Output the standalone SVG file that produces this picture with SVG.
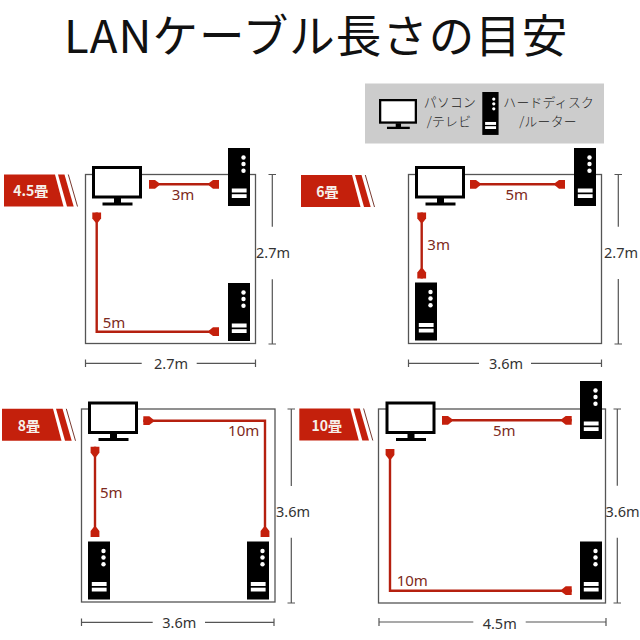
<svg xmlns="http://www.w3.org/2000/svg" xmlns:xlink="http://www.w3.org/1999/xlink" width="640" height="640" viewBox="0 0 640 640">
<style>
.title{font:400 45.5px "Noto Sans CJK JP","Noto Sans",sans-serif;fill:#111;letter-spacing:1px}
.room{fill:none;stroke:#555;stroke-width:1.3}
.cable{fill:none;stroke:#b5200f;stroke-width:2.4;stroke-linejoin:miter}
.dim{fill:none;stroke:#555;stroke-width:1.2}
.len{font:400 15px "Noto Sans","Open Sans",sans-serif;fill:#7d2a20;text-anchor:middle}
.lenS{font:400 15px "Noto Sans","Open Sans",sans-serif;fill:#7d2a20}
.size{font:400 14.5px "Noto Sans","Open Sans",sans-serif;fill:#333;text-anchor:middle}
.badge{font:700 14px "Noto Sans CJK JP","Noto Sans",sans-serif;fill:#f6f0ea;text-anchor:middle}
.leg{font:300 12.8px "Noto Sans CJK JP",sans-serif;fill:#222;text-anchor:middle;letter-spacing:.3px}
</style>
<defs>
<marker id="plug" viewBox="-11 -5 12 10" refX="0" refY="0" markerWidth="12" markerHeight="10" markerUnits="userSpaceOnUse" orient="auto-start-reverse" overflow="visible"><path d="M-10,-1.2 L-6,-4.4 L0,-4.4 L0,4.4 L-6,4.4 L-10,1.2 Z" fill="#c4200c"/></marker>
<g id="monitor"><rect x="1.5" y="1.5" width="47" height="29.5" fill="#fff" stroke="#000" stroke-width="3"/><rect x="22" y="32" width="7" height="5" fill="#000"/><rect x="10.5" y="36.5" width="30" height="3" fill="#000"/></g>
<g id="tower"><rect width="22" height="58" fill="#000"/><circle cx="15.5" cy="9.5" r="2.2" fill="#fff"/><circle cx="15.5" cy="16" r="2.2" fill="#fff"/><circle cx="15.5" cy="22.7" r="2.2" fill="#fff"/><rect x="3.8" y="40.5" width="14.8" height="4" fill="#fff"/><rect x="3.8" y="46.2" width="14.8" height="3.8" fill="#fff"/></g>
<g id="bstripes"><path d="M4,174.5H55L63.5,206.5H4Z" fill="#c4200c"/><path d="M58,174.5H64.5L73.7,206.5H67Z" fill="#c4200c"/><path d="M68.3,174.5L77.5,206.5" fill="none" stroke="#7a3a30" stroke-width="1"/></g>
</defs>
<rect width="640" height="640" fill="#fff"/>
<text class="title" x="64" y="53">LANケーブル長さの目安</text>

<g id="legend">
<rect x="365" y="83.5" width="239" height="60" fill="#ccc"/>
<use xlink:href="#monitor" href="#monitor" transform="translate(379,99) scale(.76)"/>
<text class="leg" x="450" y="107">パソコン</text><text class="leg" x="449" y="125.6">/テレビ</text>
<use xlink:href="#tower" href="#tower" transform="translate(482.3,92) scale(.74)"/>
<text class="leg" x="548.7" y="107">ハードディスク</text><text class="leg" x="548" y="125.6">/ルーター</text>
</g>

<g id="rooms">
<rect class="room" x="85.5" y="174.5" width="170" height="169"/>
<rect class="room" x="408.5" y="174.5" width="193" height="169"/>
<rect class="room" x="81.5" y="409" width="193.5" height="193"/>
<rect class="room" x="378.5" y="409" width="227" height="194"/>
</g>

<g id="connectors">
<path class="cable" marker-start="url(#plug)" marker-end="url(#plug)" d="M149,184.3H219"/>
<path class="cable" marker-start="url(#plug)" marker-end="url(#plug)" d="M96.7,212.5V331.7H219"/>
<path class="cable" marker-start="url(#plug)" marker-end="url(#plug)" d="M470,184.3H565"/>
<path class="cable" marker-start="url(#plug)" marker-end="url(#plug)" d="M421.7,212.5V278.5"/>
<path class="cable" marker-start="url(#plug)" marker-end="url(#plug)" d="M143.3,420.7H265V537"/>
<path class="cable" marker-start="url(#plug)" marker-end="url(#plug)" d="M95,446.7V537"/>
<path class="cable" marker-start="url(#plug)" marker-end="url(#plug)" d="M442,420.3H571.7"/>
<path class="cable" marker-start="url(#plug)" marker-end="url(#plug)" d="M390,449V590.7H571.7"/>
</g>

<g id="dimensions">
<path class="dim" d="M85.5,363.3H141.7M196.7,363.3H255.5M85.5,359.5V367M255.5,359.5V367"/>
<path class="dim" d="M272.3,174.5V226.7M272.3,279.3V344M268.5,174.5H276M268.5,344H276"/>
<path class="dim" d="M408.5,363.3H479M531,363.3H601.5M408.5,359.5V367M601.5,359.5V367"/>
<path class="dim" d="M618.3,174.5V226.7M618.3,279V344M614.5,174.5H622M614.5,344H622"/>
<path class="dim" d="M81.5,622.3H152.7M205,622.3H274M81.5,618.5V626M274,618.5V626"/>
<path class="dim" d="M291.3,409V486M291.3,537.7V603M287.5,409H295M287.5,603H295"/>
<path class="dim" d="M379,622H473.3M525.7,622H606M379,618V626M606,618V626"/>
<path class="dim" d="M617.3,409V485.7M617.3,537.7V603M613.5,409H621M613.5,603H621"/>
</g>

<g id="panel-4-5">
<use xlink:href="#bstripes" href="#bstripes"/>
<text class="badge" x="30.7" y="196">4.5畳</text>
<use xlink:href="#monitor" href="#monitor" x="92" y="166"/>
<use xlink:href="#tower" href="#tower" x="228" y="148"/>
<use xlink:href="#tower" href="#tower" x="228" y="283"/>
<text class="len" x="183" y="200">3m</text><text class="lenS" x="102.7" y="327.7">5m</text>
<text class="size" x="273" y="258">2.7m</text><text class="size" x="171" y="369">2.7m</text>
</g>
<g id="panel-6">
<use xlink:href="#bstripes" href="#bstripes" x="297" y="0.5"/>
<text class="badge" x="327.3" y="196.5">6畳</text>
<use xlink:href="#monitor" href="#monitor" x="415" y="166"/>
<use xlink:href="#tower" href="#tower" x="574" y="148"/>
<use xlink:href="#tower" href="#tower" x="415" y="282.5"/>
<text class="len" x="516.7" y="200">5m</text><text class="lenS" x="427.3" y="250">3m</text>
<text class="size" x="621" y="258">2.7m</text><text class="size" x="506" y="369">3.6m</text>
</g>
<g id="panel-8">
<use xlink:href="#bstripes" href="#bstripes" x="-2" y="234.3"/>
<text class="badge" x="29" y="430.5">8畳</text>
<use xlink:href="#monitor" href="#monitor" x="88" y="401.5"/>
<use xlink:href="#tower" href="#tower" x="88" y="541.5"/>
<use xlink:href="#tower" href="#tower" x="247" y="541.5"/>
<text class="len" x="243.7" y="436">10m</text><text class="lenS" x="100" y="497.7">5m</text>
<text class="size" x="293" y="517">3.6m</text><text class="size" x="179.3" y="628">3.6m</text>
</g>
<g id="panel-10">
<use xlink:href="#bstripes" href="#bstripes" x="295.3" y="234"/>
<text class="badge" x="326.7" y="430.5">10畳</text>
<use xlink:href="#monitor" href="#monitor" x="385.5" y="401.5"/>
<use xlink:href="#tower" href="#tower" x="580" y="381"/>
<use xlink:href="#tower" href="#tower" x="580" y="541.5"/>
<text class="len" x="504.3" y="436">5m</text><text class="lenS" x="396.7" y="586.3">10m</text>
<text class="size" x="622.5" y="517">3.6m</text><text class="size" x="499.7" y="628.5">4.5m</text>
</g>
</svg>
